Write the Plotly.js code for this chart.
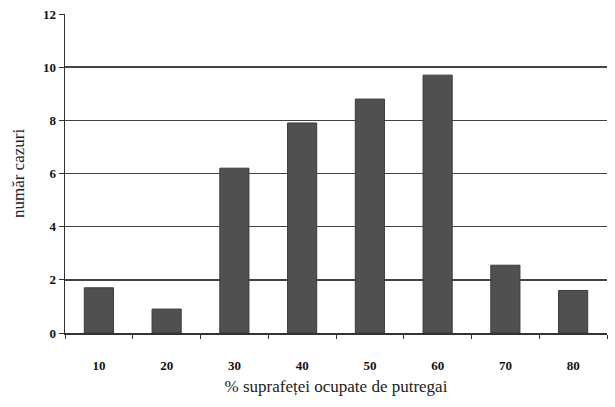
<!DOCTYPE html>
<html>
<head>
<meta charset="utf-8">
<script src="https://cdn.plot.ly/plotly-3.0.1.min.js"></script>
<style>html,body{margin:0;padding:0;background:#fff;}</style>
</head>
<body>
<div id="chart" style="width:615px;height:407px;"></div>
<script>
const categories = ["10", "20", "30", "40", "50", "60", "70", "80"];
const cases = [1.7, 0.9, 6.2, 7.9, 8.8, 9.7, 2.55, 1.6];
const yTicks = [0, 2, 4, 6, 8, 10, 12];

const font = "Liberation Serif, Times New Roman, serif";

Plotly.newPlot("chart", [{
  type: "bar",
  x: categories,
  y: cases,
  marker: {color: "#505050", line: {color: "#3a3a3a", width: 1}},
  hoverinfo: "skip"
}], {
  width: 615,
  height: 407,
  margin: {l: 65, r: 8, t: 14, b: 74},
  paper_bgcolor: "#fff",
  plot_bgcolor: "#fff",
  bargap: 0.57,
  showlegend: false,
  xaxis: {
    type: "category",
    tickson: "boundaries",
    ticks: "outside",
    ticklen: 4,
    tickcolor: "#333",
    showline: true,
    linecolor: "#333",
    linewidth: 1.5,
    showgrid: false,
    ticklabelstandoff: 20,
    tickfont: {family: font, size: 13, color: "#111", weight: "bold"},
    title: {text: "% suprafeței ocupate de putregai", font: {family: font, size: 17, color: "#222"}, standoff: 8}
  },
  yaxis: {
    range: [0, 12],
    tickvals: yTicks,
    ticks: "outside",
    ticklen: 5,
    tickcolor: "#333",
    showline: true,
    linecolor: "#333",
    linewidth: 1.5,
    showgrid: true,
    gridcolor: "#444",
    gridwidth: 1.5,
    zeroline: false,
    tickfont: {family: font, size: 13, color: "#111", weight: "bold"},
    title: {text: "număr cazuri", font: {family: font, size: 17, color: "#222"}, standoff: 14}
  }
}, {staticPlot: true});
</script>
</body>
</html>
